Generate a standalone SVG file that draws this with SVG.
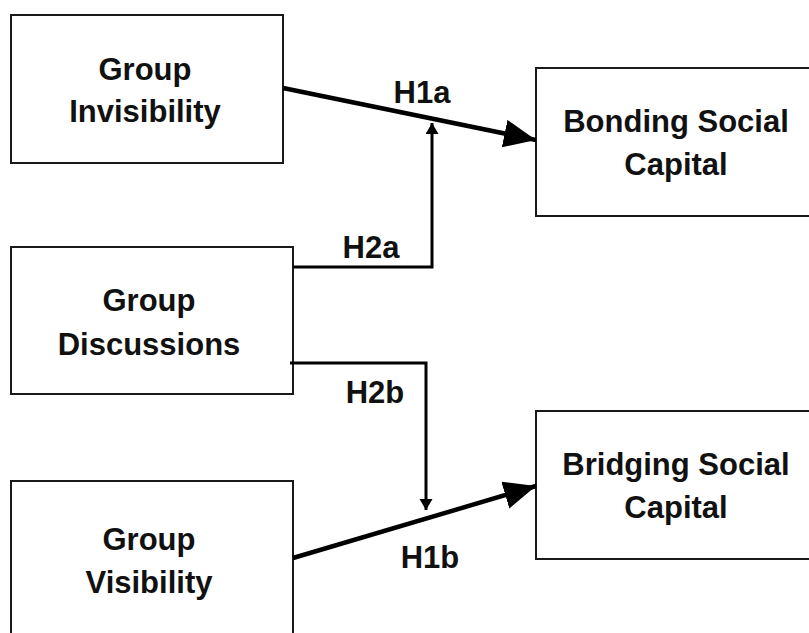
<svg xmlns="http://www.w3.org/2000/svg" width="809" height="633" viewBox="0 0 809 633">
<style>
.box{fill:#fff;stroke:#1a1a1a;stroke-width:2}
.t{font-family:"Liberation Sans",Arial,sans-serif;font-weight:bold;font-size:31px;fill:#111;text-anchor:middle}
.thick{stroke:#000;stroke-width:4.5;fill:none}
.thin{stroke:#000;stroke-width:3;fill:none}
</style>
<defs>
<marker id="big" markerUnits="userSpaceOnUse" markerWidth="34" markerHeight="30" refX="32" refY="14" orient="auto">
<path d="M0,0 L32,14 L0,28 Z" fill="#000"/>
</marker>
<marker id="small" markerUnits="userSpaceOnUse" markerWidth="14" markerHeight="14" refX="11" refY="6.5" orient="auto">
<path d="M0,0 L11,6.5 L0,13 Z" fill="#000"/>
</marker>
</defs>
<rect width="809" height="633" fill="#fff"/>
<g id="n-invisibility">
<rect class="box" x="11" y="15" width="272" height="148"/>
<text class="t" x="145" y="80">Group</text>
<text class="t" x="145" y="122">Invisibility</text>
</g>
<g id="n-discussions">
<rect class="box" x="11" y="247" width="282" height="147"/>
<text class="t" x="149" y="311">Group</text>
<text class="t" x="149" y="355">Discussions</text>
</g>
<g id="n-visibility">
<rect class="box" x="11" y="481" width="282" height="170"/>
<text class="t" x="149" y="550">Group</text>
<text class="t" x="149" y="593">Visibility</text>
</g>
<g id="n-bonding">
<rect class="box" x="536" y="68" width="290" height="148"/>
<text class="t" x="676" y="132">Bonding Social</text>
<text class="t" x="676" y="175">Capital</text>
</g>
<g id="n-bridging">
<rect class="box" x="536" y="411" width="290" height="148"/>
<text class="t" x="676" y="475">Bridging Social</text>
<text class="t" x="676" y="518">Capital</text>
</g>
<g id="connectors">
<line class="thick" x1="283" y1="88" x2="536" y2="140" marker-end="url(#big)"/>
<line class="thick" x1="293" y1="558" x2="536" y2="486" marker-end="url(#big)"/>
<polyline class="thin" points="293,267 432,267 432,123" marker-end="url(#small)"/>
<polyline class="thin" points="290,363 426,363 426,510" marker-end="url(#small)"/>
<text class="t" x="422" y="103">H1a</text>
<text class="t" x="371" y="258">H2a</text>
<text class="t" x="375" y="403">H2b</text>
<text class="t" x="430" y="568">H1b</text>
</g>
</svg>
